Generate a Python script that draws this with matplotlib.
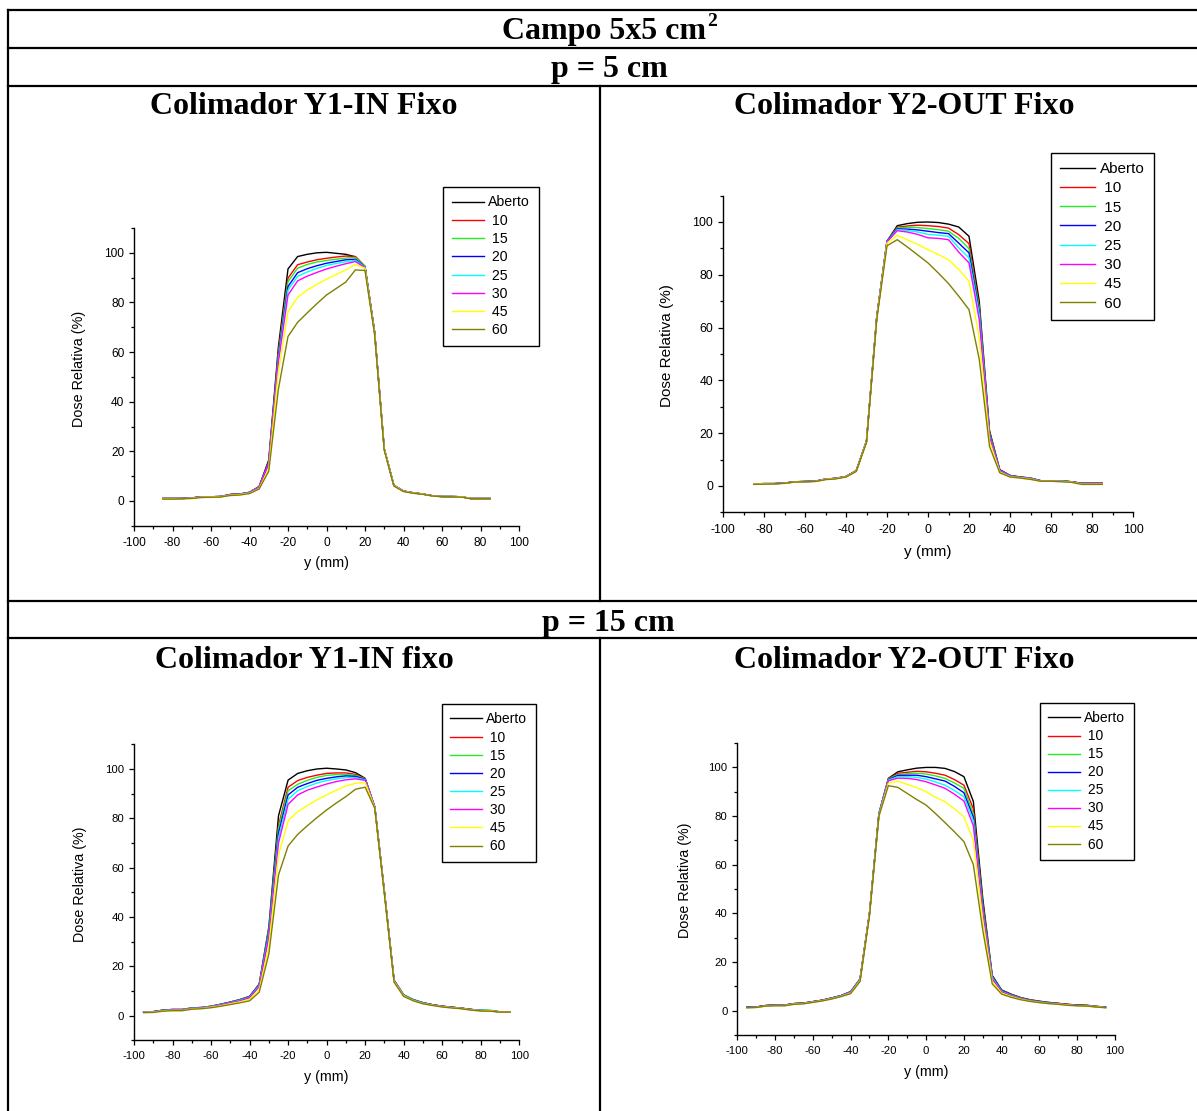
import matplotlib
matplotlib.use("Agg")
import matplotlib.pyplot as plt
from matplotlib.lines import Line2D
from matplotlib.ticker import MultipleLocator

plt.rcParams["axes.unicode_minus"] = False

# ---------------- data ----------------
SERIES_LABELS = ["Aberto", "10", "15", "20", "25", "30", "45", "60"]
SERIES_COLORS = ["#000000", "#FF0000", "#22EE22", "#0000FF", "#00FFFF", "#FF00FF", "#FFFF00", "#808000"]

X_P5 = [-85, -80, -75, -70, -65, -60, -55, -50, -45, -40, -35, -30, -25, -20, -15, -10, -5, 0,
        5, 10, 15, 20, 25, 30, 35, 40, 45, 50, 55, 60, 65, 70, 75, 80, 85]
X_P15 = [-95, -90, -85, -80, -75, -70, -65, -60, -55, -50, -45, -40, -35, -30, -25, -20, -15, -10, -5, 0,
         5, 10, 15, 20, 25, 30, 35, 40, 45, 50, 55, 60, 65, 70, 75, 80, 85, 90, 95]

# p = 5 cm, Y1-IN fixed
P5_Y1_ABERTO = [1.0, 1.0, 1.0, 1.2, 1.7, 1.7, 1.8, 2.6, 2.8, 3.5, 5.8, 16.5, 62, 93.5, 98.5, 99.4, 100.0, 100.2, 99.8, 99.4, 98.4, 94.5, 68, 21, 6.3, 4.0, 3.3, 2.8, 2.1, 1.8, 1.8, 1.7, 1.0, 1.0, 1.0]
P5_Y1_10 = [1.0, 1.0, 1.0, 1.2, 1.7, 1.7, 1.8, 2.6, 2.8, 3.5, 5.8, 16.0, 60, 89.8, 95.2, 96.3, 97.2, 97.8, 98.3, 98.7, 98.5, 94.5, 68, 21, 6.3, 4.0, 3.3, 2.8, 2.1, 1.8, 1.8, 1.7, 1.0, 1.0, 1.0]
P5_Y1_15 = [1.0, 1.0, 1.0, 1.2, 1.7, 1.7, 1.8, 2.6, 2.8, 3.5, 5.7, 15.5, 59, 88.4, 93.8, 95.3, 96.3, 96.9, 97.4, 97.9, 98.1, 94.5, 68, 21, 6.3, 4.0, 3.3, 2.8, 2.1, 1.8, 1.8, 1.7, 1.0, 1.0, 1.0]
P5_Y1_20 = [1.0, 1.0, 1.0, 1.2, 1.7, 1.7, 1.8, 2.6, 2.8, 3.4, 5.7, 15.5, 58, 86.4, 92.0, 93.6, 94.8, 95.8, 96.5, 97.2, 97.4, 94.3, 68, 21, 6.3, 4.0, 3.3, 2.8, 2.1, 1.8, 1.8, 1.7, 1.0, 1.0, 1.0]
P5_Y1_25 = [1.0, 1.0, 1.0, 1.2, 1.6, 1.7, 1.8, 2.5, 2.7, 3.4, 5.6, 15.0, 57, 85.0, 90.5, 92.3, 93.7, 94.9, 95.7, 96.4, 97.0, 94.2, 68, 21, 6.3, 4.0, 3.3, 2.8, 2.1, 1.8, 1.8, 1.7, 1.0, 1.0, 1.0]
P5_Y1_30 = [1.0, 1.0, 1.0, 1.2, 1.6, 1.7, 1.8, 2.5, 2.7, 3.3, 5.5, 15.0, 56, 83.0, 88.7, 90.6, 92.1, 93.5, 94.6, 95.6, 96.5, 94.0, 68, 21, 6.3, 4.0, 3.3, 2.8, 2.1, 1.8, 1.8, 1.7, 1.0, 1.0, 1.0]
P5_Y1_45 = [0.9, 0.9, 0.9, 1.1, 1.5, 1.6, 1.7, 2.3, 2.6, 3.1, 5.0, 13.0, 52, 76.3, 82.1, 85.0, 87.3, 89.4, 91.3, 93.1, 95.3, 93.8, 67.5, 21, 6.2, 3.9, 3.2, 2.8, 2.0, 1.8, 1.8, 1.7, 1.0, 1.0, 1.0]
P5_Y1_60 = [0.8, 0.8, 0.9, 1.0, 1.4, 1.5, 1.6, 2.2, 2.4, 3.0, 4.8, 12.0, 45, 66.3, 72.0, 75.8, 79.5, 83.0, 85.6, 88.2, 93.1, 92.9, 67, 20.5, 6.0, 3.8, 3.1, 2.7, 2.0, 1.7, 1.7, 1.6, 0.9, 0.9, 0.9]

# p = 5 cm, Y2-OUT fixed
P5_Y2_ABERTO = [0.8, 0.9, 0.9, 1.1, 1.6, 1.7, 1.8, 2.6, 2.9, 3.6, 5.8, 17.0, 64, 92.7, 98.6, 99.4, 99.9, 100.0, 99.8, 99.2, 98.1, 94.6, 70, 21, 6.2, 4.0, 3.4, 3.0, 2.0, 2.0, 2.0, 1.6, 1.0, 1.0, 1.0]
P5_Y2_10 = [0.8, 0.9, 0.9, 1.1, 1.6, 1.7, 1.8, 2.6, 2.9, 3.6, 5.8, 17.0, 64, 92.7, 98.0, 98.5, 98.8, 98.6, 98.3, 97.7, 95.2, 91.8, 68, 20.5, 6.1, 4.0, 3.4, 3.0, 2.0, 2.0, 2.0, 1.6, 1.0, 1.0, 1.0]
P5_Y2_15 = [0.8, 0.9, 0.9, 1.1, 1.6, 1.7, 1.8, 2.6, 2.9, 3.6, 5.8, 17.0, 64, 92.7, 97.7, 98.0, 97.9, 97.5, 97.1, 96.5, 93.8, 89.9, 67, 20, 6.0, 3.9, 3.3, 3.0, 2.0, 2.0, 2.0, 1.6, 1.0, 1.0, 1.0]
P5_Y2_20 = [0.8, 0.9, 0.9, 1.1, 1.6, 1.7, 1.8, 2.6, 2.9, 3.6, 5.8, 17.0, 64, 92.7, 97.4, 97.3, 97.0, 96.5, 96.0, 95.6, 92.0, 88.3, 66, 19.5, 6.0, 3.9, 3.3, 2.9, 2.0, 2.0, 1.9, 1.6, 1.0, 1.0, 1.0]
P5_Y2_25 = [0.8, 0.9, 0.9, 1.1, 1.6, 1.7, 1.8, 2.6, 2.9, 3.6, 5.8, 17.0, 64, 92.5, 97.1, 96.8, 96.2, 95.3, 95.0, 94.6, 90.2, 86.4, 65, 19, 5.8, 3.8, 3.2, 2.9, 1.9, 1.9, 1.9, 1.5, 0.9, 0.9, 0.9]
P5_Y2_30 = [0.8, 0.9, 0.9, 1.1, 1.6, 1.7, 1.8, 2.6, 2.9, 3.6, 5.8, 17.0, 64, 92.5, 96.7, 96.2, 95.3, 94.0, 93.8, 93.3, 88.6, 84.5, 63, 18.5, 5.7, 3.7, 3.2, 2.8, 1.9, 1.9, 1.8, 1.5, 0.9, 0.9, 0.9]
P5_Y2_45 = [0.7, 0.8, 0.8, 1.0, 1.5, 1.6, 1.7, 2.5, 2.8, 3.5, 5.6, 16.8, 63.5, 92.0, 95.0, 93.2, 91.5, 89.5, 87.7, 85.7, 82.0, 77.6, 56, 17, 5.3, 3.5, 3.1, 2.6, 1.8, 1.8, 1.7, 1.5, 0.7, 0.7, 0.7]
P5_Y2_60 = [0.6, 0.7, 0.8, 1.0, 1.5, 1.6, 1.7, 2.4, 2.7, 3.4, 5.5, 16.5, 63, 91.0, 93.3, 90.5, 87.5, 84.5, 80.7, 76.7, 71.9, 66.8, 48, 15, 5.0, 3.4, 3.0, 2.5, 1.8, 1.8, 1.6, 1.4, 0.6, 0.6, 0.6]

# p = 15 cm, Y1-IN fixed
P15_Y1_ABERTO = [1.5, 1.6, 2.2, 2.5, 2.5, 3.1, 3.3, 3.8, 4.6, 5.5, 6.5, 7.8, 12.8, 36, 81, 95.5, 98.2, 99.3, 100.0, 100.3, 100.0, 99.6, 98.5, 96.2, 84.5, 50, 14.3, 8.3, 6.4, 5.2, 4.4, 3.8, 3.4, 3.0, 2.5, 2.1, 2.0, 1.5, 1.5]
P15_Y1_10 = [1.5, 1.6, 2.2, 2.5, 2.5, 3.1, 3.3, 3.8, 4.6, 5.5, 6.5, 7.8, 12.6, 35, 77, 92.6, 95.3, 96.6, 97.5, 98.2, 98.4, 98.4, 97.8, 96.0, 84.5, 50, 14.3, 8.3, 6.4, 5.2, 4.4, 3.8, 3.4, 3.0, 2.5, 2.1, 2.0, 1.5, 1.5]
P15_Y1_15 = [1.5, 1.6, 2.2, 2.5, 2.5, 3.1, 3.3, 3.8, 4.6, 5.5, 6.4, 7.7, 12.5, 35, 76, 91.2, 93.8, 95.4, 96.6, 97.4, 97.7, 97.8, 97.4, 96.0, 84.5, 50, 14.3, 8.5, 6.6, 5.3, 4.4, 3.8, 3.4, 3.0, 2.5, 2.2, 2.2, 1.6, 1.5]
P15_Y1_20 = [1.5, 1.6, 2.2, 2.4, 2.4, 3.0, 3.2, 3.7, 4.5, 5.4, 6.3, 7.6, 12.4, 34, 74, 89.5, 92.6, 94.1, 95.4, 96.2, 96.8, 97.2, 97.0, 95.8, 84.5, 50, 14.3, 8.3, 6.4, 5.2, 4.4, 3.8, 3.4, 3.0, 2.5, 2.1, 2.0, 1.5, 1.5]
P15_Y1_25 = [1.4, 1.5, 2.1, 2.4, 2.4, 3.0, 3.2, 3.7, 4.4, 5.3, 6.2, 7.4, 12.2, 33, 72, 87.7, 91.2, 92.9, 94.3, 95.3, 96.0, 96.5, 96.5, 95.6, 84.5, 50, 14.2, 8.2, 6.3, 5.1, 4.3, 3.7, 3.3, 2.9, 2.4, 2.1, 2.0, 1.5, 1.5]
P15_Y1_30 = [1.4, 1.5, 2.0, 2.3, 2.3, 2.9, 3.1, 3.6, 4.3, 5.2, 6.0, 7.2, 11.8, 32, 70, 85.7, 89.5, 91.4, 92.7, 93.9, 94.9, 95.6, 96.0, 95.4, 84.5, 50, 14.1, 8.1, 6.2, 5.0, 4.3, 3.7, 3.3, 2.9, 2.4, 2.0, 1.9, 1.5, 1.5]
P15_Y1_45 = [1.3, 1.4, 1.9, 2.1, 2.1, 2.7, 2.9, 3.4, 4.0, 4.8, 5.6, 6.6, 10.5, 28, 65, 79.0, 82.7, 85.2, 87.5, 89.5, 91.4, 93.1, 94.2, 94.5, 84.2, 49.5, 13.8, 8.0, 6.1, 4.9, 4.2, 3.6, 3.2, 2.9, 2.3, 2.0, 1.9, 1.4, 1.4]
P15_Y1_60 = [1.2, 1.3, 1.8, 2.0, 2.0, 2.6, 2.8, 3.2, 3.8, 4.5, 5.2, 6.0, 9.5, 25, 57, 68.8, 73.5, 77.0, 80.3, 83.4, 86.2, 88.8, 91.8, 92.6, 84, 49, 13.5, 7.8, 6.0, 4.8, 4.1, 3.5, 3.1, 2.8, 2.2, 1.9, 1.8, 1.4, 1.4]

# p = 15 cm, Y2-OUT fixed
P15_Y2_ABERTO = [1.4, 1.5, 2.1, 2.3, 2.3, 2.9, 3.1, 3.7, 4.3, 5.2, 6.2, 7.8, 13.0, 40, 81, 95.5, 98.2, 99.0, 99.7, 100.0, 100.0, 99.6, 98.3, 96.2, 86, 46, 14.5, 8.5, 6.8, 5.4, 4.5, 3.9, 3.4, 3.0, 2.6, 2.3, 2.2, 1.8, 1.4]
P15_Y2_10 = [1.4, 1.5, 2.1, 2.3, 2.3, 2.9, 3.1, 3.7, 4.3, 5.2, 6.2, 7.8, 13.0, 40, 81, 95.3, 97.6, 98.0, 98.4, 98.2, 97.6, 96.8, 95.0, 92.7, 83, 44, 14.0, 8.3, 6.6, 5.3, 4.4, 3.8, 3.3, 3.0, 2.6, 2.3, 2.2, 1.8, 1.4]
P15_Y2_15 = [1.4, 1.5, 2.1, 2.3, 2.3, 2.9, 3.1, 3.7, 4.3, 5.2, 6.2, 7.8, 13.0, 40, 81, 95.2, 97.1, 97.4, 97.6, 97.3, 96.5, 95.5, 93.6, 91.4, 81, 43, 14.0, 8.2, 6.5, 5.2, 4.3, 3.7, 3.3, 2.9, 2.5, 2.2, 2.2, 1.7, 1.4]
P15_Y2_20 = [1.4, 1.5, 2.1, 2.3, 2.3, 2.9, 3.1, 3.7, 4.3, 5.2, 6.2, 7.7, 12.9, 40, 81, 95.0, 96.7, 96.8, 96.8, 96.2, 95.3, 94.4, 92.2, 89.6, 79.5, 42, 13.8, 8.1, 6.4, 5.1, 4.2, 3.7, 3.2, 2.9, 2.5, 2.2, 2.1, 1.7, 1.4]
P15_Y2_25 = [1.3, 1.4, 2.0, 2.2, 2.2, 2.8, 3.0, 3.6, 4.2, 5.1, 6.1, 7.6, 12.8, 40, 81, 94.8, 96.2, 96.2, 95.9, 95.2, 94.0, 92.7, 90.5, 87.9, 78, 41, 13.5, 7.9, 6.3, 5.0, 4.1, 3.6, 3.1, 2.8, 2.4, 2.1, 2.0, 1.7, 1.3]
P15_Y2_30 = [1.3, 1.4, 2.0, 2.2, 2.2, 2.8, 3.0, 3.6, 4.2, 5.0, 6.0, 7.5, 12.6, 40, 80.5, 94.5, 95.6, 95.5, 95.0, 94.1, 92.8, 91.4, 89.0, 86.2, 76, 40, 13.0, 7.7, 6.1, 4.9, 4.0, 3.5, 3.0, 2.8, 2.4, 2.1, 2.0, 1.6, 1.3]
P15_Y2_45 = [1.2, 1.3, 1.9, 2.1, 2.1, 2.7, 2.9, 3.5, 4.1, 4.9, 5.9, 7.2, 12.3, 39.5, 80, 93.5, 94.4, 93.0, 91.7, 90.0, 87.7, 85.9, 83.0, 79.7, 70, 37, 12.0, 7.2, 5.8, 4.7, 3.9, 3.4, 2.9, 2.7, 2.3, 2.0, 1.9, 1.6, 1.2]
P15_Y2_60 = [1.2, 1.3, 1.9, 2.0, 2.0, 2.6, 2.8, 3.4, 4.0, 4.8, 5.8, 7.0, 12.0, 39, 80, 92.5, 91.8, 89.3, 86.8, 84.5, 81.0, 77.3, 73.5, 69.5, 60, 33, 11.0, 6.8, 5.5, 4.5, 3.8, 3.3, 2.9, 2.6, 2.2, 2.0, 1.9, 1.5, 1.2]

X_TICKS = [-100, -80, -60, -40, -20, 0, 20, 40, 60, 80, 100]
Y_TICKS = [0, 20, 40, 60, 80, 100]

# ---------------- figure ----------------
W, H = 1197, 1111
fig = plt.figure(figsize=(W / 100, H / 100), dpi=100)
fig.patch.set_facecolor("white")

SERIF = ["Liberation Serif", "DejaVu Serif"]
SANS = ["Liberation Sans", "DejaVu Sans"]


def fx(px):
    return px / W


def fy(py):
    return 1 - py / H


def hline(y, x0=8, x1=1197, lw=1.6):
    fig.add_artist(Line2D([fx(x0), fx(x1)], [fy(y), fy(y)], color="black", lw=lw,
                          transform=fig.transFigure))


def vline(x, y0, y1, lw=1.6):
    fig.add_artist(Line2D([fx(x), fx(x)], [fy(y0), fy(y1)], color="black", lw=lw,
                          transform=fig.transFigure))


# table grid
for yy in [10, 48, 86, 601, 638]:
    hline(yy)
vline(8, 10, 1111)
vline(600, 86, 601)
vline(600, 638, 1111)

# headers
TFS = 23
t_main = fig.text(fx(604), fy(32), "Campo 5x5 cm", ha="center", va="center", fontsize=TFS,
                  fontweight="bold", family=SERIF)
fig.canvas.draw()
bb = t_main.get_window_extent()
fig.text(bb.x1 / W + fx(1), fy(21), "2", ha="left", va="center", fontsize=14, fontweight="bold", family=SERIF)
fig.text(fx(609), fy(70), "p = 5 cm", ha="center", va="center", fontsize=TFS, fontweight="bold", family=SERIF)
fig.text(fx(608.5), fy(623), "p = 15 cm", ha="center", va="center", fontsize=TFS, fontweight="bold", family=SERIF)
fig.text(fx(304), fy(107), "Colimador Y1-IN Fixo", ha="center", va="center", fontsize=TFS,
         fontweight="bold", family=SERIF)
fig.text(fx(904.5), fy(107), "Colimador Y2-OUT Fixo", ha="center", va="center", fontsize=TFS,
         fontweight="bold", family=SERIF)
fig.text(fx(304.5), fy(660), "Colimador Y1-IN fixo", ha="center", va="center", fontsize=TFS,
         fontweight="bold", family=SERIF)
fig.text(fx(904.5), fy(660), "Colimador Y2-OUT Fixo", ha="center", va="center", fontsize=TFS,
         fontweight="bold", family=SERIF)

PANELS = [
    dict(x=X_P5, ys=[P5_Y1_ABERTO, P5_Y1_10, P5_Y1_15, P5_Y1_20, P5_Y1_25, P5_Y1_30, P5_Y1_45, P5_Y1_60],
         box=(134, 519, 228, 525.8), tfs=8.6, lfs=10.4, gfs=10.2, lsp=0.3, leg=(443, 187), ylx=79, yly=369, xly=563),
    dict(x=X_P5, ys=[P5_Y2_ABERTO, P5_Y2_10, P5_Y2_15, P5_Y2_20, P5_Y2_25, P5_Y2_30, P5_Y2_45, P5_Y2_60],
         box=(723, 1133, 195.6, 512.4), tfs=8.9, lfs=11, gfs=11, lsp=0.34, leg=(1051, 153), ylx=666, yly=346, xly=553),
    dict(x=X_P15, ys=[P15_Y1_ABERTO, P15_Y1_10, P15_Y1_15, P15_Y1_20, P15_Y1_25, P15_Y1_30, P15_Y1_45, P15_Y1_60],
         box=(134, 519.3, 744.3, 1040.3), tfs=8.2, lfs=10.3, gfs=10, lsp=0.3, leg=(442, 704), ylx=80, yly=884, xly=1077),
    dict(x=X_P15, ys=[P15_Y2_ABERTO, P15_Y2_10, P15_Y2_15, P15_Y2_20, P15_Y2_25, P15_Y2_30, P15_Y2_45, P15_Y2_60],
         box=(737.3, 1115, 743.1, 1035), tfs=8.2, lfs=10.3, gfs=10, lsp=0.29, leg=(1040, 703), ylx=685, yly=880, xly=1072),
]

for p in PANELS:
    xl, xr, yt, yb = p["box"]
    ax = fig.add_axes([fx(xl), fy(yb), (xr - xl) / W, (yb - yt) / H])
    for ys, lab, col in zip(p["ys"], SERIES_LABELS, SERIES_COLORS):
        ax.plot(p["x"], ys, color=col, lw=1.0, label=lab if lab == "Aberto" else " " + lab)
    ax.set_xlim(-100, 100)
    ax.set_ylim(-10, 110)
    ax.set_xticks(X_TICKS)
    ax.set_yticks(Y_TICKS)
    ax.xaxis.set_minor_locator(MultipleLocator(10))
    ax.yaxis.set_minor_locator(MultipleLocator(10))
    for s in ["top", "right"]:
        ax.spines[s].set_visible(False)
    for s in ["left", "bottom"]:
        ax.spines[s].set_linewidth(1.0)
    ax.tick_params(which="major", direction="out", length=3.5, width=0.9)
    ax.tick_params(which="minor", direction="out", length=2.2, width=0.9)
    ax.tick_params(axis="y", which="major", pad=3.5)
    ax.tick_params(axis="x", which="major", pad=4.5)
    for t in ax.get_xticklabels() + ax.get_yticklabels():
        t.set_fontsize(p["tfs"])
        t.set_family(SANS)
    ax.set_ylabel("Dose Relativa (%)", fontsize=p["lfs"], family=SANS)
    ax.set_xlabel("y (mm)", fontsize=p["lfs"], family=SANS)
    half = p["lfs"] * 1.389 * 0.5
    ax.yaxis.set_label_coords((p["ylx"] + half - xl) / (xr - xl), (yb - p["yly"]) / (yb - yt))
    ax.xaxis.set_label_coords(0.5, -(p["xly"] - half - yb) / (yb - yt))
    ax.patch.set_alpha(0)
    lx, ly = p["leg"]
    leg = ax.legend(loc="upper left", bbox_to_anchor=(fx(lx), fy(ly)), bbox_transform=fig.transFigure,
                    prop={"family": SANS, "size": p["gfs"]}, frameon=True, fancybox=False,
                    edgecolor="black", framealpha=1, borderaxespad=0, borderpad=0.6,
                    labelspacing=p["lsp"], handlelength=2.3, handletextpad=0.3)
    leg.get_frame().set_linewidth(1.0)

fig.savefig("out.png", dpi=100, facecolor="white")
